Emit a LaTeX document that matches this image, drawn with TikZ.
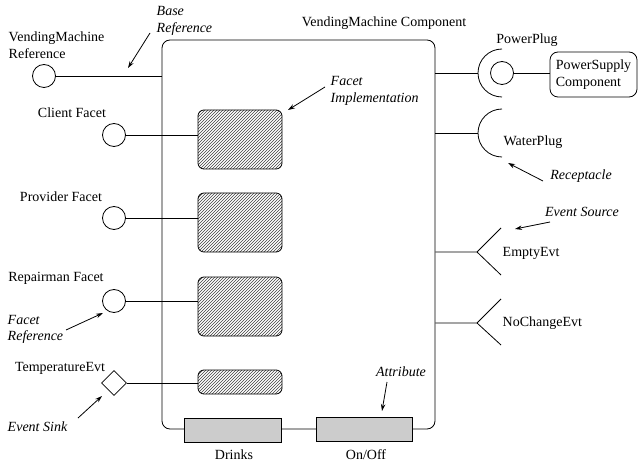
\documentclass[tikz,border=0pt]{standalone}
\usepackage{fontspec}
\setmainfont{Liberation Serif}
\usetikzlibrary{arrows.meta,patterns,shapes.geometric}
\newcommand{\vmfont}{\fontsize{14}{16.5}\selectfont\rmfamily}
\tikzset{
  port/.style={circle,draw,minimum size=23pt,inner sep=0pt},
  sinkport/.style={diamond,draw,minimum size=25pt,inner sep=0pt},
  impl/.style={draw,thick,rounded corners=6pt,pattern=north east lines,pattern color=black!75,minimum width=84pt},
  attr/.style={draw,thick,fill=black!20,minimum height=24pt},
  note/.style={font=\vmfont\itshape,align=left},
  pointer/.style={-{Stealth[length=7pt,width=4.5pt]}},
}

\begin{document}
\begin{tikzpicture}[x=1pt,y=-1pt,line width=0.8pt,font=\vmfont]
  \useasboundingbox (0,0) rectangle (639,462);
  % component body
  \node[draw,rounded corners=8pt,minimum width=273pt,minimum height=389pt,inner sep=0pt] (comp) at (298.5,234.5) {};
  \node (comptitle) at (384,23) {VendingMachine Component};

  % facets and sink on the left
  \node[port] (vmref) at (44,76) {};
  \node[port] (client) at (114,135) {};
  \node[port] (provider) at (114,218) {};
  \node[port] (repair) at (114,301) {};
  \node[sinkport] (temp) at (114,383) {};
  \node[anchor=west,align=left] (vmreflbl) at (5,45) {VendingMachine\\Reference};
  \node (clientlbl) at (72,113) {Client Facet};
  \node (providerlbl) at (61,197) {Provider Facet};
  \node (repairlbl) at (56,278) {Repairman Facet};
  \node (templbl) at (60,368) {TemperatureEvt};

  \node[impl,minimum height=59pt] (clientimpl) at (240,139.5) {};
  \node[impl,minimum height=59pt] (providerimpl) at (240,222.5) {};
  \node[impl,minimum height=59pt] (repairimpl) at (240,306.5) {};
  \node[impl,minimum height=24pt] (tempimpl) at (240,382) {};

  \draw (vmref) -- (vmref -| comp.west);
  \draw (client) -- (client -| clientimpl.west);
  \draw (provider) -- (provider -| providerimpl.west);
  \draw (repair) -- (repair -| repairimpl.west);
  \draw (temp) -- (temp -| tempimpl.west);

  % attributes
  \node[attr,minimum width=97pt] (drinks) at (232.5,430) {};
  \node[attr,minimum width=96pt] (onoff) at (364,429.5) {};
  \node (drinkslbl) at (234,455) {Drinks};
  \node (onofflbl) at (366,455) {On/Off};

  % receptacles
  \coordinate (pwrplug) at (478,73);
  \coordinate (waterplug) at (478,133);
  \node[port] (pwrsock) at (502,73) {};
  \node[draw,rounded corners=8pt,minimum width=87pt,minimum height=45pt,inner sep=0pt,align=left] (pwrsupply) at (593.5,74.5) {PowerSupply\\Component};
  \draw (pwrplug -| comp.east) -- (pwrplug);
  \draw (waterplug -| comp.east) -- (waterplug);
  \draw (pwrplug) arc[start angle=180,end angle=90,radius=24pt]
        (pwrplug) arc[start angle=180,end angle=270,radius=24pt];
  \draw (waterplug) arc[start angle=180,end angle=90,radius=24pt]
        (waterplug) arc[start angle=180,end angle=270,radius=24pt];
  \draw (pwrsock) -- (pwrsock -| pwrsupply.west);
  \node (pwrpluglbl) at (527,40) {PowerPlug};
  \node (waterpluglbl) at (533,142) {WaterPlug};

  % event sources
  \coordinate (emptyfork) at (477,252);
  \coordinate (nochgfork) at (477,323);
  \draw (emptyfork -| comp.east) -- (emptyfork) -- ++(24,-24) (emptyfork) -- ++(24,23);
  \draw (nochgfork -| comp.east) -- (nochgfork) -- ++(24,-24) (nochgfork) -- ++(24,22);
  \node[anchor=west] (emptylbl) at (499,253) {EmptyEvt};
  \node[anchor=west] (nochglbl) at (499,323) {NoChangeEvt};

  % notes
  \node[note,anchor=west] (basenote) at (153,21) {Base\\Reference};
  \node[note,anchor=west] (implnote) at (327,91) {Facet\\Implementation};
  \node[note,anchor=west] (facetnote) at (4,329.5) {Facet\\Reference};
  \node[note,anchor=west] (sinknote) at (4,427) {Event Sink};
  \node[note] (attrnote) at (401,372) {Attribute};
  \node[note] (recepnote) at (581,176) {Receptacle};
  \node[note] (srcnote) at (582,212) {Event Source};

  \coordinate (basetail) at (150,33);  \coordinate (basetip) at (128,68);
  \coordinate (impltail) at (325,87);  \coordinate (impltip) at (288,110);
  \coordinate (facettail) at (66,330); \coordinate (facettip) at (103,313);
  \coordinate (sinktail) at (78,418);  \coordinate (sinktip) at (102,396);
  \coordinate (attrtail) at (387,382); \coordinate (attrtip) at (382,411);
  \coordinate (receptail) at (543,181); \coordinate (receptip) at (508,163);
  \coordinate (srctail) at (550,222);  \coordinate (srctip) at (515,229);
  \draw[pointer] (basetail) -- (basetip);
  \draw[pointer] (impltail) -- (impltip);
  \draw[pointer] (facettail) -- (facettip);
  \draw[pointer] (sinktail) -- (sinktip);
  \draw[pointer] (attrtail) -- (attrtip);
  \draw[pointer] (receptail) -- (receptip);
  \draw[pointer] (srctail) -- (srctip);
\end{tikzpicture}
\end{document}
